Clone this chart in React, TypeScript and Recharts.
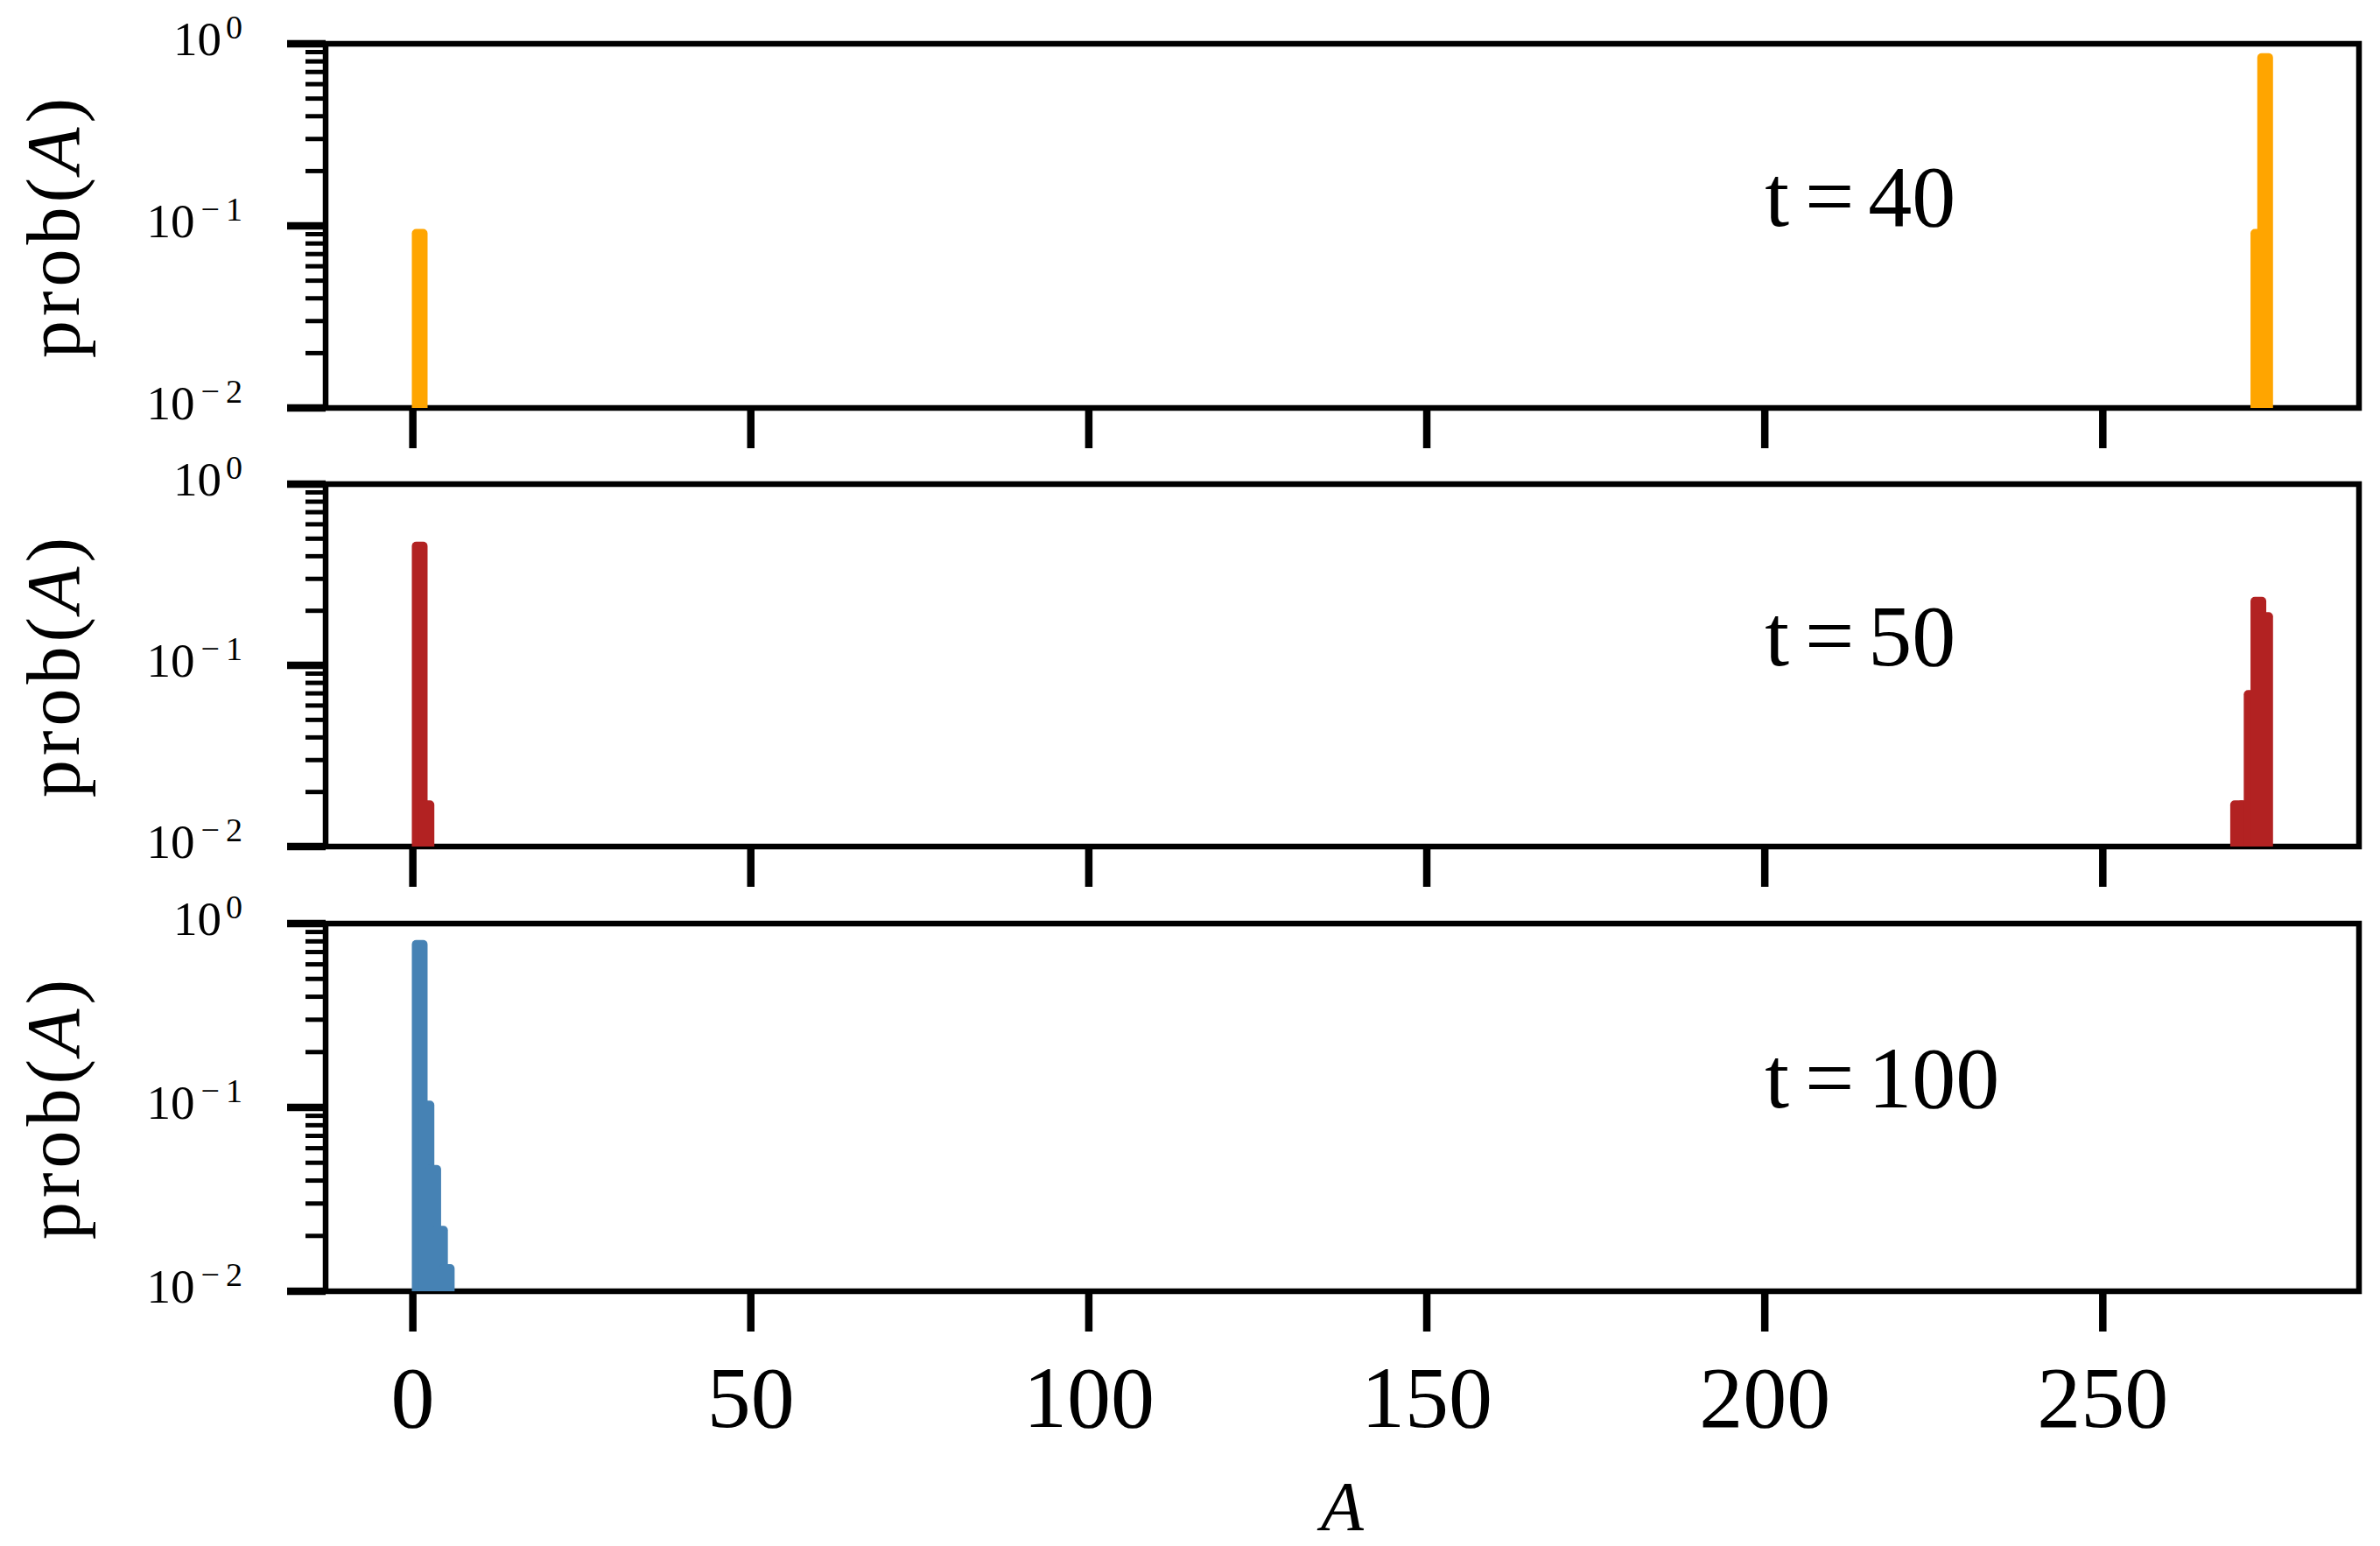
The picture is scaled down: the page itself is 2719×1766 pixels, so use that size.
import { BarChart, Bar, XAxis, YAxis, ReferenceArea, ReferenceDot } from 'recharts';

const SERIF = '"Liberation Serif", "DejaVu Serif", serif';

// probability of A, one pair of arrays per time step
const t40A = [1, 273, 274];
const t40P = [0.091, 0.091, 0.84];

const t50A = [1, 2, 270, 271, 272, 273, 274];
const t50P = [0.455, 0.017, 0.017, 0.017, 0.069, 0.226, 0.186];

const t100A = [1, 2, 3, 4, 5];
const t100P = [0.77, 0.103, 0.046, 0.0215, 0.0133];

const panelTitles = ['t=40', 't=50', 't=100'];
const panelColors = ['#ffa500', '#b22222', '#4682b4'];

const xTicks = [0, 50, 100, 150, 200, 250];
const yTicks = [
    0.01, 0.02, 0.03, 0.04, 0.05, 0.06, 0.07, 0.08, 0.09,
    0.1, 0.2, 0.3, 0.4, 0.5, 0.6, 0.7, 0.8, 0.9, 1,
];
const yMajor = [0.01, 0.1, 1];
const yMajorExp = ['\u22122', '\u22121', '0'];

const xDomain = [-12.9, 287.9];
const yDomain = [0.01, 1];
const titleAt = { A: 200, p: 0.1 };

const toRows = (a: number[], p: number[]) => a.map((A, i) => ({ A, p: p[i] }));
const panelData = [toRows(t40A, t40P), toRows(t50A, t50P), toRows(t100A, t100P)];

// plot-area placement of the three stacked panels
const panels = [
    { top: 50, bottom: 466, axisH: 60 },
    { top: 553, bottom: 967, axisH: 60 },
    { top: 1055, bottom: 1475, axisH: 290 },
];

function YTick(props: any) {
    const { x, y, payload } = props;
    const i = yMajor.indexOf(payload.value);
    if (i < 0) {
        return <line x1={x - 23} x2={x} y1={y} y2={y} stroke="#000" strokeWidth={5} />;
    }
    const exp = yMajorExp[i];
    return (
        <g>
            <line x1={x - 44} x2={x} y1={y} y2={y} stroke="#000" strokeWidth={8.5} />
            <text x={x - 95} y={y + 13} textAnchor="end" fontFamily={SERIF} fill="#000">
                <tspan fontSize={55}>10</tspan>
                {exp.length > 1 ? (
                    <>
                        <tspan fontSize={38} dx={7} dy={-19}>{exp[0]}</tspan>
                        <tspan fontSize={38} dx={7}>{exp.slice(1)}</tspan>
                    </>
                ) : (
                    <tspan fontSize={38} dx={5} dy={-19}>{exp}</tspan>
                )}
            </text>
        </g>
    );
}

function XTick(props: any) {
    const { x, y, payload, showLabel } = props;
    if (!showLabel) return <g />;
    return (
        <text x={x} y={y + 109} textAnchor="middle" fontSize={100} fontFamily={SERIF} fill="#000">
            {payload.value}
        </text>
    );
}

function Panel({ idx }: { idx: number }) {
    const lay = panels[idx];
    const color = panelColors[idx];
    const last = idx === panels.length - 1;
    const plotH = lay.bottom - lay.top;
    const [lhs, rhs] = panelTitles[idx].split('=');

    return (
        <div style={{ position: 'absolute', left: 0, top: lay.top - 50 }}>
            <BarChart
                width={2719}
                height={50 + plotH + lay.axisH}
                data={panelData[idx]}
                margin={{ top: 50, right: 24, bottom: 0, left: 0 }}
                barCategoryGap={0}
                barGap={0}
            >
                <XAxis
                    dataKey="A"
                    type="number"
                    domain={xDomain}
                    ticks={xTicks}
                    interval={0}
                    allowDataOverflow
                    height={lay.axisH}
                    axisLine={false}
                    tickSize={46}
                    tickMargin={0}
                    tickLine={{ stroke: '#000', strokeWidth: 8.5 }}
                    tick={<XTick showLabel={last} />}
                    label={last ? {
                        content: (p: any) => {
                            const vb = p.viewBox;
                            return (
                                <text x={vb.x + vb.width / 2} y={vb.y + 273} textAnchor="middle"
                                    fontSize={80} fontStyle="italic" fontFamily={SERIF} fill="#000">A</text>
                            );
                        },
                    } : undefined}
                />
                <YAxis
                    type="number"
                    scale="log"
                    domain={yDomain}
                    ticks={yTicks}
                    interval={0}
                    allowDataOverflow
                    width={372}
                    axisLine={false}
                    tickLine={false}
                    tickSize={0}
                    tickMargin={0}
                    tick={<YTick />}
                    label={{
                        content: (p: any) => {
                            const vb = p.viewBox;
                            const cx = vb.x + 90;
                            const cy = vb.y + vb.height / 2;
                            return (
                                <text x={cx} y={cy} textAnchor="middle" fontSize={86} letterSpacing={5}
                                    fontFamily={SERIF} fill="#000" transform={`rotate(-90 ${cx} ${cy})`}>
                                    prob(<tspan fontStyle="italic">A</tspan>)
                                </text>
                            );
                        },
                    }}
                />
                <Bar
                    dataKey="p"
                    fill={color}
                    isAnimationActive={false}
                    shape={(p: any) => (
                        <rect x={p.x} y={p.y} width={p.width} height={p.height}
                            fill={color} stroke={color} strokeWidth={10} strokeLinejoin="round" />
                    )}
                />
                <ReferenceDot
                    x={titleAt.A}
                    y={titleAt.p}
                    r={1}
                    shape={(p: any) => (
                        <text x={p.cx} y={p.cy} fontSize={100} fontFamily={SERIF} fill="#000">
                            <tspan>{lhs}</tspan>
                            <tspan dx={18}>=</tspan>
                            <tspan dx={16}>{rhs}</tspan>
                        </text>
                    )}
                />
                <ReferenceArea
                    x1={xDomain[0]}
                    x2={xDomain[1]}
                    y1={yDomain[0]}
                    y2={yDomain[1]}
                    fill="none"
                    stroke="#000"
                    strokeWidth={6.5}
                    ifOverflow="visible"
                />
            </BarChart>
        </div>
    );
}

export default function App() {
    return (
        <div style={{ position: 'absolute', left: 0, top: 0, width: 2719, height: 1766, background: '#fff' }}>
            {panels.map((_, i) => <Panel key={i} idx={i} />)}
        </div>
    );
}
